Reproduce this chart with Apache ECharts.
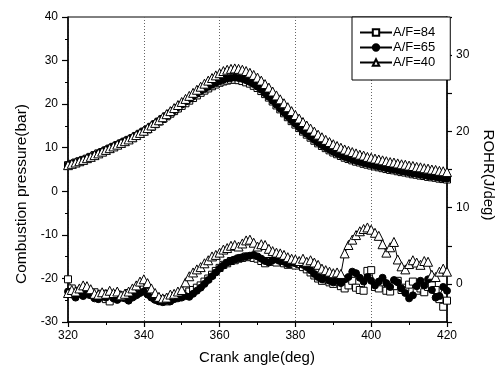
<!DOCTYPE html>
<html>
<head>
<meta charset="utf-8">
<script src="https://cdn.jsdelivr.net/npm/echarts@6/dist/echarts.min.js"></script>
<style>
  html, body { margin: 0; padding: 0; background: #fff; }
  #chart { width: 499px; height: 372px; }
</style>
</head>
<body>
<div id="chart"></div>
<script>
// Crank angle sampling grid, one sample per degree
const crankAngle = Array.from({ length: 101 }, (_, i) => 320 + i);

const seriesNames = ['A/F=84', 'A/F=65', 'A/F=40'];

// Combustion pressure (bar), 320..420 deg
const pressureAF84 = [
  6.0, 6.3, 6.6, 6.9, 7.2, 7.5, 7.9, 8.3, 8.7, 9.0,
  9.4, 9.8, 10.2, 10.6, 11.0, 11.4, 11.8, 12.2, 12.7, 13.2,
  13.7, 14.2, 14.8, 15.4, 16.0, 16.6, 17.2, 17.8, 18.4, 19.0,
  19.6, 20.2, 20.8, 21.4, 22.0, 22.6, 23.1, 23.6, 24.1, 24.5,
  24.9, 25.2, 25.4, 25.6, 25.6, 25.5, 25.3, 25.0, 24.7, 24.2,
  23.7, 23.0, 22.3, 21.5, 20.6, 19.7, 18.8, 17.9, 17.0, 16.1,
  15.3, 14.5, 13.7, 13.0, 12.3, 11.6, 11.0, 10.4, 9.9, 9.4,
  8.9, 8.5, 8.1, 7.7, 7.4, 7.1, 6.8, 6.6, 6.3, 6.1,
  5.9, 5.7, 5.5, 5.3, 5.1, 4.9, 4.8, 4.6, 4.4, 4.3,
  4.1, 3.9, 3.8, 3.6, 3.5, 3.3, 3.2, 3.1, 2.9, 2.8,
  2.7
];
const pressureAF65 = [
  6.0, 6.3, 6.6, 6.9, 7.2, 7.5, 7.9, 8.3, 8.7, 9.1,
  9.5, 9.9, 10.3, 10.7, 11.1, 11.5, 11.9, 12.3, 12.8, 13.3,
  13.8, 14.3, 14.9, 15.5, 16.1, 16.7, 17.3, 18.0, 18.6, 19.3,
  19.9, 20.6, 21.2, 21.8, 22.4, 23.0, 23.5, 24.0, 24.5, 24.9,
  25.3, 25.6, 25.9, 26.0, 26.1, 26.0, 25.8, 25.5, 25.1, 24.6,
  24.0, 23.3, 22.5, 21.7, 20.8, 19.9, 19.0, 18.1, 17.2, 16.3,
  15.5, 14.7, 13.9, 13.2, 12.5, 11.8, 11.2, 10.6, 10.1, 9.6,
  9.1, 8.7, 8.3, 7.9, 7.6, 7.3, 7.0, 6.8, 6.5, 6.3,
  6.1, 5.9, 5.7, 5.5, 5.3, 5.1, 5.0, 4.8, 4.6, 4.5,
  4.3, 4.1, 4.0, 3.8, 3.7, 3.5, 3.4, 3.3, 3.1, 3.0,
  2.9
];
const pressureAF40 = [
  6.0, 6.3, 6.6, 6.9, 7.2, 7.6, 7.9, 8.3, 8.7, 9.1,
  9.5, 9.9, 10.3, 10.7, 11.1, 11.5, 11.9, 12.4, 12.9, 13.4,
  13.9, 14.5, 15.1, 15.7, 16.3, 17.0, 17.7, 18.4, 19.1, 19.8,
  20.5, 21.2, 21.9, 22.6, 23.3, 24.0, 24.7, 25.4, 26.0, 26.6,
  27.1, 27.6, 27.9, 28.1, 28.2, 28.1, 27.9, 27.6, 27.2, 26.7,
  26.1, 25.4, 24.6, 23.8, 22.9, 22.0, 21.1, 20.2, 19.3, 18.4,
  17.5, 16.7, 15.9, 15.1, 14.4, 13.7, 13.0, 12.4, 11.8, 11.3,
  10.8, 10.4, 10.0, 9.6, 9.3, 9.0, 8.7, 8.4, 8.2, 7.9,
  7.7, 7.5, 7.3, 7.1, 6.9, 6.7, 6.6, 6.4, 6.2, 6.1,
  5.9, 5.8, 5.6, 5.5, 5.3, 5.2, 5.0, 4.9, 4.7, 4.6,
  4.4
];

// Rate of heat release (J/deg), 320..420 deg
const rohrAF84 = [
  0.6, -0.6, -1.2, -0.9, -1.3, -1.0, -1.4, -1.1, -1.6, -1.3,
  -2.0, -2.3, -1.6, -1.4, -1.8, -1.5, -1.2, -1.6, -1.3, -0.9,
  -0.6, -1.1, -1.5, -1.9, -2.1, -2.0, -2.3, -1.8, -1.7, -1.5,
  -1.3, -1.4, -1.0, -0.8, -0.5, -0.2, 0.3, 0.7, 1.2, 1.7,
  2.1, 2.5, 2.7, 3.0, 3.1, 3.3, 3.4, 3.6, 3.5, 3.4,
  3.3, 3.0, 2.7, 3.0, 2.9, 2.8, 3.1, 2.7, 2.5, 2.6,
  2.4, 2.6, 2.2, 1.9, 1.5, 1.1, 0.7, 0.4, 0.6, 0.2,
  0.0, 0.3, -0.3, -0.6, -0.2, 0.4, -0.5, -0.8, -0.9, 1.7,
  1.8, -0.4, -0.6, 0.2, -0.9, -1.0, -0.3, 0.4, -0.8, -0.5,
  -0.1, 0.3, -0.9, -0.6, -1.1, -0.4, -0.2, -0.8, -2.0, -3.0,
  -2.2
];
const rohrAF65 = [
  -1.0, -1.4, -1.8, -1.3, -1.6, -1.2, -1.5, -1.9, -2.0, -1.6,
  -1.8, -1.5, -1.9, -2.1, -1.7, -1.9, -2.2, -1.8, -1.5, -1.2,
  -1.0, -1.4, -1.8, -2.1, -2.3, -2.4, -2.2, -2.3, -2.0, -1.9,
  -1.8, -1.6, -1.7, -1.3, -0.9, -0.5, 0.0, 0.5, 1.0, 1.5,
  2.0, 2.4, 2.8, 3.0, 3.2, 3.4, 3.5, 3.6, 3.7, 3.8,
  3.6, 3.3, 3.0, 2.8, 3.1, 3.2, 3.0, 2.9, 2.6, 2.8,
  2.7, 2.9, 2.5, 2.2, 1.8, 1.3, 0.9, 0.6, 0.8, 0.4,
  0.2, 0.5, 0.1, 0.6, 0.9, 1.6, 1.4, 0.8, 0.3, 0.9,
  0.4, -0.2, 0.3, 0.8, 0.1, -0.4, 0.5, 0.2, -0.6, -1.2,
  -1.9, -1.5, -0.3, 0.4, -0.2, 0.6, -0.8, -1.8, -1.6, -0.4,
  -0.9
];
const rohrAF40 = [
  -1.2, -0.8, -1.0, -0.6, -0.2, -0.3, -0.7, -1.3, -1.4, -1.1,
  -1.3, -0.9, -1.2, -1.0, -1.5, -1.3, -1.0, -0.6, -0.2, 0.3,
  0.6, 0.1, -0.6, -1.2, -1.7, -1.9, -1.8, -1.4, -1.3, -1.0,
  -0.8, 0.2, 1.0, 1.5, 1.9, 2.2, 2.7, 3.1, 3.6, 3.8,
  4.1, 4.5, 4.7, 5.0, 5.1, 4.9, 5.3, 5.7, 5.8, 5.4,
  4.9, 5.2, 5.1, 4.6, 4.3, 4.1, 4.0, 3.8, 3.5, 3.3,
  3.2, 3.0, 3.3, 2.9, 3.1, 2.8, 2.5, 2.0, 1.8, 1.6,
  1.4, 1.5, 1.3, 4.0, 5.1, 5.8, 6.4, 6.9, 7.2, 7.4,
  7.1, 6.7, 6.3, 5.2, 4.1, 4.8, 5.5, 3.2, 2.3, 1.9,
  2.6, 3.1, 2.8, 2.5, 3.0, 2.9, 1.2, 0.9, 1.6, 2.0,
  1.6
];

const xTicks = [320, 340, 360, 380, 400, 420];
const leftTicks = [-30, -20, -10, 0, 10, 20, 30, 40];
const rightTicks = [0, 10, 20, 30];

const FONT = 'Liberation Sans, Arial, sans-serif';

function pairs(values) {
  return crankAngle.map((a, i) => [a, values[i]]);
}

const markerStyle = {
  'A/F=84': { symbol: 'rect', size: 7, fill: '#fff' },
  'A/F=65': { symbol: 'circle', size: 7, fill: '#000' },
  'A/F=40': { symbol: 'triangle', size: 9, fill: '#fff' }
};

function makeSeries(name, values, axis) {
  const m = markerStyle[name];
  return {
    name: name,
    type: 'line',
    yAxisIndex: axis,
    data: pairs(values),
    symbol: m.symbol,
    symbolSize: m.size,
    showAllSymbol: true,
    lineStyle: { color: '#000', width: 1 },
    itemStyle: { color: m.fill, borderColor: '#000', borderWidth: 1 },
    emphasis: { disabled: true },
    animation: false
  };
}

const chart = echarts.init(document.getElementById('chart'), null, { renderer: 'canvas' });

chart.setOption({
  backgroundColor: '#fff',
  animation: false,
  grid: {
    left: 68, right: 52, top: 17, bottom: 50,
    show: true, borderColor: '#000', borderWidth: 1
  },
  legend: {
    data: seriesNames,
    orient: 'vertical',
    left: 352,
    top: 17,
    itemWidth: 32,
    itemHeight: 8,
    itemGap: 2,
    padding: [9, 15, 11, 7],
    backgroundColor: '#fff',
    borderColor: '#000',
    borderWidth: 1,
    borderRadius: 0,
    textStyle: { fontFamily: FONT, fontSize: 13, color: '#000', padding: [0, 0, 0, -4] }
  },
  xAxis: {
    type: 'value',
    min: 320, max: 420, interval: 20,
    axisLine: { show: true, onZero: false, lineStyle: { color: '#000', width: 1.5 } },
    axisTick: { show: true, inside: false, length: 5, lineStyle: { color: '#000', width: 1.2 } },
    minorTick: { show: true, splitNumber: 2, length: 3, lineStyle: { color: '#000' } },
    splitLine: { show: true, lineStyle: { color: '#666', type: [1, 2], width: 1 } },
    axisLabel: {
      fontFamily: FONT, fontSize: 12, color: '#000', margin: 8,
      formatter: v => (xTicks.indexOf(v) >= 0 ? String(v) : '')
    }
  },
  yAxis: [
    {
      type: 'value',
      position: 'left',
      min: -30, max: 40, interval: 10,
      axisLine: { show: true, onZero: false, lineStyle: { color: '#000', width: 1.5 } },
      axisTick: { show: true, inside: false, length: 6, lineStyle: { color: '#000', width: 1.2 } },
      minorTick: { show: true, splitNumber: 2, length: 3, lineStyle: { color: '#000' } },
      splitLine: { show: false },
      axisLabel: {
        fontFamily: FONT, fontSize: 12, color: '#000', margin: 10,
        formatter: v => (leftTicks.indexOf(v) >= 0 ? String(v) : '')
      }
    },
    {
      type: 'value',
      position: 'right',
      min: -5, max: 35, interval: 5,
      axisLine: { show: true, onZero: false, lineStyle: { color: '#000', width: 1.5 } },
      axisTick: { show: true, inside: false, length: 5, lineStyle: { color: '#000', width: 1.2 } },
      splitLine: { show: false },
      axisLabel: {
        fontFamily: FONT, fontSize: 12, color: '#000', margin: 9,
        formatter: v => (rightTicks.indexOf(v) >= 0 ? String(v) : '')
      }
    }
  ],
  graphic: [
    {
      type: 'text',
      x: 257, y: 358,
      style: {
        text: 'Crank angle(deg)',
        fontFamily: FONT, fontSize: 15, fill: '#000',
        align: 'center', verticalAlign: 'middle'
      }
    },
    {
      type: 'text',
      x: 22, y: 194, rotation: Math.PI / 2,
      style: {
        text: 'Combustion pressure(bar)',
        fontFamily: FONT, fontSize: 15.5, fill: '#000',
        align: 'center', verticalAlign: 'middle'
      }
    },
    {
      type: 'text',
      x: 488, y: 175, rotation: -Math.PI / 2,
      style: {
        text: 'ROHR(J/deg)',
        fontFamily: FONT, fontSize: 15, fill: '#000',
        align: 'center', verticalAlign: 'middle'
      }
    }
  ],
  series: [
    makeSeries('A/F=84', pressureAF84, 0),
    makeSeries('A/F=65', pressureAF65, 0),
    makeSeries('A/F=40', pressureAF40, 0),
    makeSeries('A/F=84', rohrAF84, 1),
    makeSeries('A/F=65', rohrAF65, 1),
    makeSeries('A/F=40', rohrAF40, 1)
  ]
});
</script>
</body>
</html>
